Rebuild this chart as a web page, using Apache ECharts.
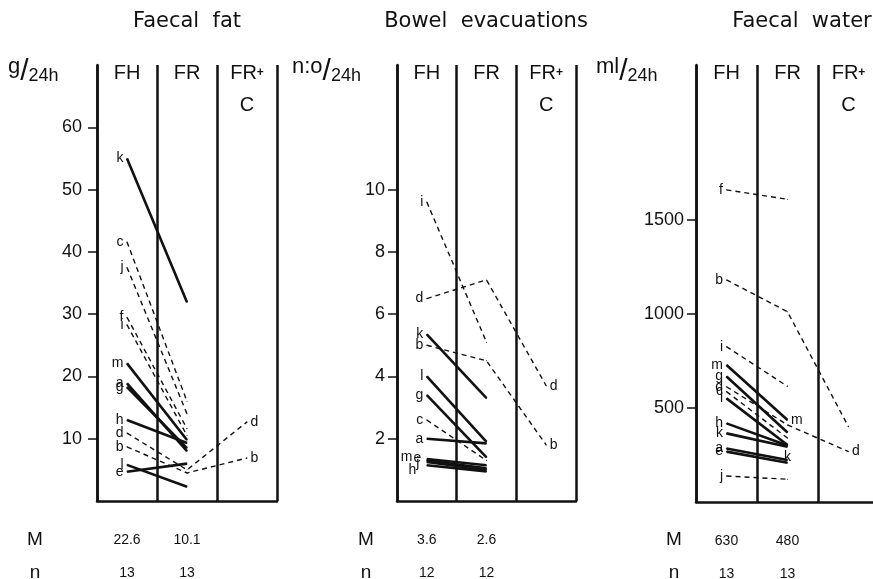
<!DOCTYPE html>
<html><head><meta charset="utf-8">
<script src="https://cdn.jsdelivr.net/npm/echarts@6/dist/echarts.min.js"></script>
<style>html,body{margin:0;padding:0;background:#fff;overflow:hidden}#c{width:873px;height:579px}</style>
</head><body><div id="c"></div>
<script>
// ---------------- data ----------------
const patients = ['a','b','c','d','e','f','g','h','i','j','k','l','m'];
const columns = ['FH', 'FR', 'FR+C'];

// Faecal fat, g/24h
const fatFH  = [18.9, 8.7, 41.6, 10.9, 4.7, 29.5, 18.3, 13.0, 28.3, 37.5, 55.0, 5.8, 22.1];
const fatFR  = [8.0, 4.5, 16.0, 5.0, 6.0, 11.6, 8.5, 9.3, 10.5, 14.0, 31.9, 2.3, 9.8];
const fatFRC = [null, 6.9, null, 12.7, null, null, null, null, null, null, null, null, null];
const fatMean = ['22.6', '10.1', ''];
const fatN = ['13', '13', ''];
const fatDashed = ['b','c','d','f','i','j'];
const fatEndLabels = ['b','d'];
const fatTicks = [10, 20, 30, 40, 50, 60];

// Bowel evacuations, n:o/24h
const bowFH  = [2.0, 5.0, 2.6, 6.5, 1.3, null, 3.4, 1.15, 9.6, 1.25, 5.35, 4.0, 1.35];
const bowFR  = [1.85, 4.5, 1.3, 7.1, 1.05, null, 1.4, 0.95, 5.1, 1.0, 3.3, 1.9, 1.15];
const bowFRC = [null, 1.8, null, 3.7, null, null, null, null, null, null, null, null, null];
const bowMean = ['3.6', '2.6', ''];
const bowN = ['12', '12', ''];
const bowDashed = ['b','c','d','i'];
const bowEndLabels = ['b','d'];
const bowTicks = [2, 4, 6, 8, 10];

// Faecal water, ml/24h
const watFH  = [285, 1181, 587, 613, 268, 1660, 667, 418, 826, 138, 365, 551, 729];
const watFR  = [223, 1012, 340, 410, 209, 1610, 370, 300, 615, 121, 294, 303, 436];
const watFRC = [null, 400, null, 268, null, null, null, null, null, null, null, null, null];
const watMean = ['630', '480', ''];
const watN = ['13', '13', ''];
const watDashed = ['b','c','d','f','i','j'];
const watEndLabels = ['d','k','m'];
const watTicks = [500, 1000, 1500];

const titles = ['Faecal  fat', 'Bowel  evacuations', 'Faecal  water'];
const units = ['g', 'n:o', 'ml'];

// ---------------- layout ----------------
const INK = '#111';
const FONT = '"Liberation Sans", Arial, sans-serif';
const panels = [
  {FH: fatFH, FR: fatFR, FRC: fatFRC, mean: fatMean, n: fatN, dashed: fatDashed, ends: fatEndLabels, ticks: fatTicks,
   grid: {left: 97, top: 65, width: 180, height: 436}, max: 70, interval: 10, titleX: 187, unitX: 8, mX: 35},
  {FH: bowFH, FR: bowFR, FRC: bowFRC, mean: bowMean, n: bowN, dashed: bowDashed, ends: bowEndLabels, ticks: bowTicks,
   grid: {left: 397, top: 65, width: 179, height: 436}, max: 14, interval: 2, titleX: 486, unitX: 292, mX: 366},
  {FH: watFH, FR: watFR, FRC: watFRC, mean: watMean, n: watN, dashed: watDashed, ends: watEndLabels, ticks: watTicks,
   grid: {left: 696, top: 65, width: 183, height: 437}, max: 2324, interval: 500, titleX: 802, unitX: 596, mX: 674}
];
const endPos = {0: {b: 'right', d: 'right'}, 1: {b: 'right', d: 'right'}, 2: {d: 'right', m: 'right', k: 'bottom'}};
const startOffset = {1: {m: [-11, -2], e: [-2, -2], j: [-4, 1], h: [-7, 5]}};

const grid = [], xAxis = [], yAxis = [], series = [], graphic = [];
panels.forEach((p, k) => {
  grid.push(Object.assign({containLabel: false, outerBoundsMode: 'none'}, p.grid));
  xAxis.push({
    type: 'category', gridIndex: k, data: columns, boundaryGap: true, position: 'bottom',
    axisLine: {show: true, lineStyle: {color: INK, width: 2.5}},
    axisTick: {show: false},
    splitLine: {show: true, lineStyle: {color: INK, width: 2.5}},
    axisLabel: {
      interval: 0, margin: 23, lineHeight: 33, fontSize: 14, color: INK, fontFamily: FONT,
      formatter: (v, i) => p.mean[i] + '\n' + p.n[i]
    }
  });
  xAxis.push({
    type: 'category', gridIndex: k, data: columns, boundaryGap: true, position: 'top',
    axisLine: {show: false}, axisTick: {show: false}, splitLine: {show: false},
    axisLabel: {
      interval: 0, inside: true, margin: -8, verticalAlign: 'top', lineHeight: 32,
      fontSize: 20, color: INK, fontFamily: FONT,
      formatter: v => v === 'FR+C' ? 'FR{s|+}\nC' : v,
      rich: {s: {fontSize: 12, verticalAlign: 'middle', lineHeight: 32, color: INK, fontFamily: FONT, fontWeight: 'bold'}}
    }
  });
  yAxis.push({
    type: 'value', gridIndex: k, min: 0, max: p.max, interval: p.interval,
    axisLine: {show: true, lineStyle: {color: INK, width: 2.5}},
    axisTick: {show: true, length: 9, customValues: p.ticks, lineStyle: {color: INK, width: 1.5}},
    axisLabel: {show: true, customValues: p.ticks, margin: k === 0 ? 15 : 12, fontSize: 18, color: INK,
                fontFamily: FONT, formatter: v => String(v)},
    splitLine: {show: false}
  });
  graphic.push({
    type: 'text', x: p.titleX, y: 22,
    style: {text: titles[k], fontSize: 21, fontFamily: '"DejaVu Sans", sans-serif', fill: INK,
            align: 'center', verticalAlign: 'middle'}
  });
  graphic.push({
    type: 'text', x: p.unitX, y: 72,
    style: {
      text: '{m|' + units[k] + '}{s|/}{n|24h}', fill: INK,
      verticalAlign: 'middle', align: 'left',
      rich: {
        m: {fontSize: 22, fontFamily: FONT, fill: INK, padding: [0, 0, 10, 0]},
        s: {fontSize: 30, fontFamily: FONT, fill: INK},
        n: {fontSize: 18, fontFamily: FONT, fill: INK, padding: [8, 0, 0, 0]}
      }
    }
  });
  graphic.push({
    type: 'text', x: p.mX, y: 523.5,
    style: {text: 'M\nn', fontSize: 19, lineHeight: 33, fontFamily: FONT, fill: INK, align: 'center', verticalAlign: 'top'}
  });

  patients.forEach((id, i) => {
    if (p.FH[i] == null) return;
    const vals = [p.FH[i], p.FR[i]];
    if (p.FRC[i] != null) vals.push(p.FRC[i]);
    const dashed = p.dashed.includes(id);
    const data = vals.map((v, j) => {
      const item = {value: v};
      if (j === 0) {
        item.label = {show: true, position: 'left', distance: 3, formatter: id,
                      offset: (startOffset[k] && startOffset[k][id]) || [0, 0]};
      } else if (j === vals.length - 1 && p.ends.includes(id)) {
        item.label = {show: true, position: endPos[k][id] || 'right', distance: 3, formatter: id};
      }
      return item;
    });
    series.push({
      type: 'line', xAxisIndex: 2 * k, yAxisIndex: k, name: id,
      data: data, symbol: 'circle', symbolSize: 1, showSymbol: true,
      animation: false, silent: true,
      itemStyle: {color: INK},
      lineStyle: {color: INK, width: dashed ? 1.4 : 2.6, type: dashed ? [5, 4] : 'solid'},
      label: {show: false, fontSize: 14, color: INK, fontFamily: FONT},
      z: dashed ? 2 : 3
    });
  });
});

const chart = echarts.init(document.getElementById('c'), null, {renderer: 'canvas'});
chart.setOption({
  backgroundColor: '#fff',
  animation: false,
  grid, xAxis, yAxis, series, graphic
});
</script>
</body></html>
